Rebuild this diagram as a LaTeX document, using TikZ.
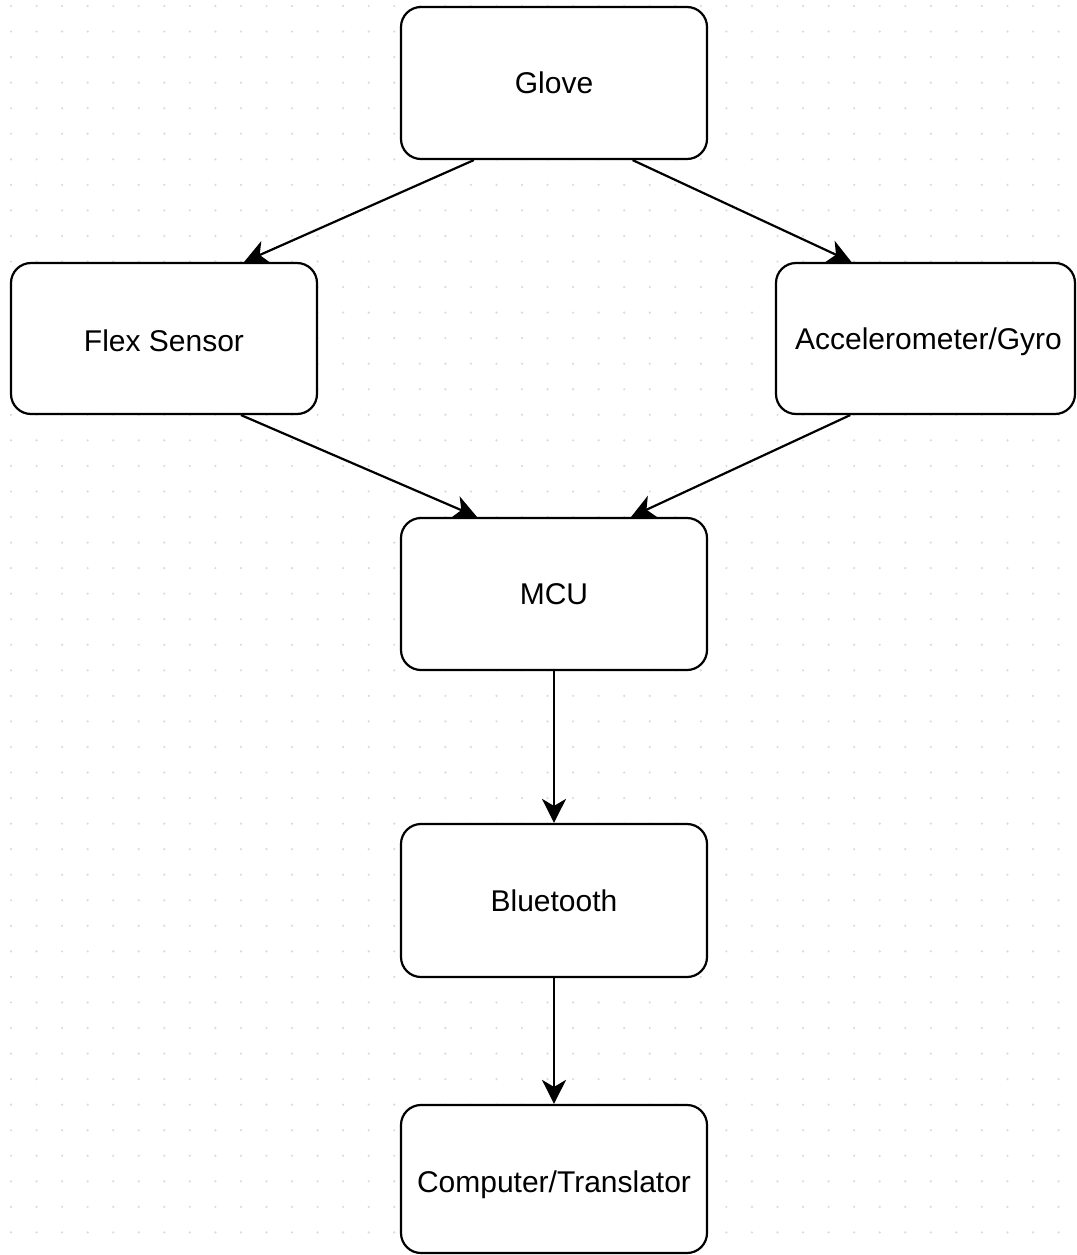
\documentclass[tikz,border=0pt]{standalone}
\usepackage{fontspec}
\setmainfont{Liberation Sans}
\usetikzlibrary{arrows.meta,calc}
\definecolor{dotc}{HTML}{DADADA}
\newcommand{\lowered}[2]{\raisebox{#1}[\height][\depth]{#2}}
\tikzset{
  box/.style={draw=black, line width=2.2pt, rounded corners=20pt, fill=white,
    minimum width=306pt, minimum height=152pt, inner sep=0pt,
    font=\fontsize{30}{36}\selectfont, text=black},
  conn/.style={line width=2.2pt, -{Stealth[length=24pt,width=24pt,inset=7pt]}}
}
\begin{document}
\begin{tikzpicture}[x=1pt,y=-1pt]
\useasboundingbox (0,0) rectangle (1076,1255);
\fill[white] (0,0) rectangle (1076,1255);
\foreach \i in {0,...,42}{
  \foreach \j in {0,...,48}{
    \fill[dotc] (11+\i*25.55, 6+\j*25.55) circle (1.2pt);
  }
}
\node[box] (glove) at (554,83) {Glove};
\node[box, minimum height=151pt] (flex) at (164,338.5) {\lowered{-2pt}{Flex Sensor}};
\node[box, minimum width=299pt, minimum height=151pt] (acc) at (925.5,338.5) {\lowered{-3pt}{\hspace{6pt}Accelerometer/Gyro}};
\node[box] (mcu) at (554,594) {MCU};
\node[box, minimum height=153pt] (bt) at (554,900.5) {Bluetooth};
\node[box, minimum height=148pt] (comp) at (554,1179) {\lowered{-6pt}{Computer/Translator}};

\draw[conn] ($(glove.south west)!0.24!(glove.south east)$) -- ($(flex.north west)!0.76!(flex.north east)$);
\draw[conn] ($(glove.south west)!0.755!(glove.south east)$) -- ($(acc.north west)!0.254!(acc.north east)$);
\draw[conn] ($(flex.south west)!0.75!(flex.south east)$) -- ($(mcu.north west)!0.25!(mcu.north east)$);
\draw[conn] ($(acc.south west)!0.25!(acc.south east)$) -- ($(mcu.north west)!0.75!(mcu.north east)$);
\draw[conn] (mcu.south) -- (bt.north);
\draw[conn] (bt.south) -- (comp.north);
\end{tikzpicture}
\end{document}
